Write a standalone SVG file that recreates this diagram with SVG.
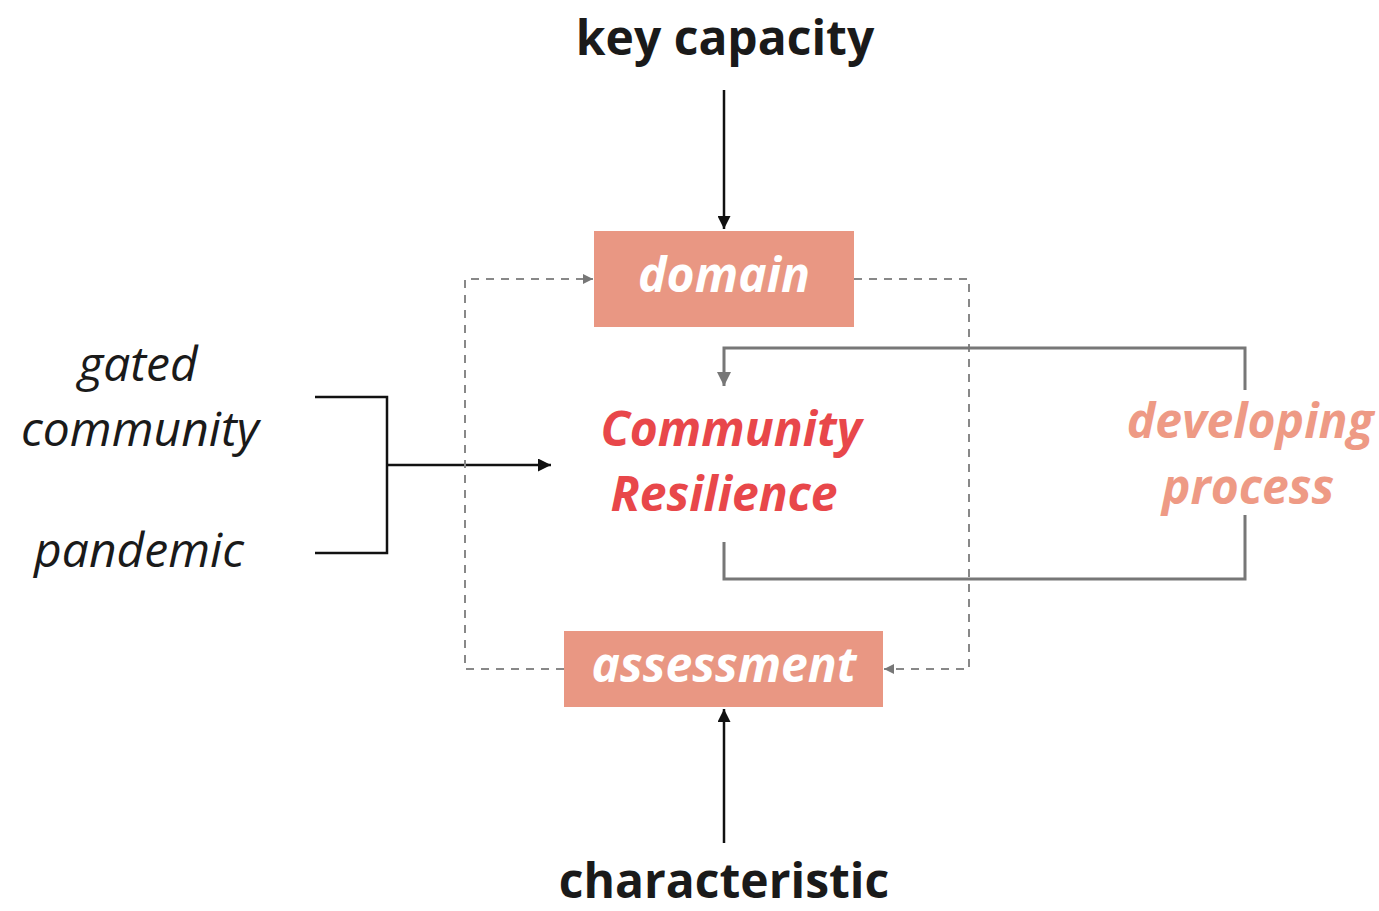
<svg xmlns="http://www.w3.org/2000/svg" width="1379" height="911" viewBox="0 0 1379 911">
<defs>
<marker id="ab" viewBox="0 0 10 10" refX="10" refY="5" markerWidth="13" markerHeight="13" markerUnits="userSpaceOnUse" orient="auto"><path d="M0,0 L10,5 L0,10 z" fill="#111"/></marker>
<marker id="ag" viewBox="0 0 10 10" refX="10" refY="5" markerWidth="10" markerHeight="10" markerUnits="userSpaceOnUse" orient="auto"><path d="M0,0 L10,5 L0,10 z" fill="#777"/></marker>
<marker id="ag2" viewBox="0 0 10 10" refX="10" refY="5" markerWidth="14" markerHeight="14" markerUnits="userSpaceOnUse" orient="auto"><path d="M0,0 L10,5 L0,10 z" fill="#777"/></marker>
</defs>
<style>
text{font-family:"Open Sans","Noto Sans",sans-serif;text-anchor:middle;font-size:48px}
.t{font-weight:bold;fill:#1a1a1a}
.l{font-style:italic;fill:#1a1a1a}
.box{fill:#E99783}
.w{font-weight:bold;font-style:italic;fill:#fff}
.r{font-weight:bold;font-style:italic;fill:#E8474A}
.p{font-weight:bold;font-style:italic;fill:#EE9A85}
.blk{fill:none;stroke:#111;stroke-width:2.5}
.dash{fill:none;stroke:#888;stroke-width:2;stroke-dasharray:8 7}
.gry{fill:none;stroke:#777;stroke-width:3}
</style>
<g id="connectors">
<line class="blk" x1="724" y1="90" x2="724" y2="229" marker-end="url(#ab)"/>
<line class="blk" x1="724" y1="843" x2="724" y2="709" marker-end="url(#ab)"/>
<path class="blk" d="M315,397 H387 V553 H315"/>
<line class="blk" x1="387" y1="465" x2="551" y2="465" marker-end="url(#ab)"/>
<path class="dash" d="M564,669 H465 V279 H593" marker-end="url(#ag)"/>
<path class="dash" d="M854,279 H969 V669 H884" marker-end="url(#ag)"/>
<path class="gry" d="M1245,390 V348 H724 V386" marker-end="url(#ag2)"/>
<path class="gry" d="M724,542 V579 H1245 V515"/>
</g>
<g id="key-capacity"><text class="t" x="725" y="55">key capacity</text></g>
<g id="characteristic"><text class="t" x="724" y="898">characteristic</text></g>
<g id="domain"><rect class="box" x="594" y="231" width="260" height="96"/><text class="w" x="724" y="292">domain</text></g>
<g id="assessment"><rect class="box" x="564" y="631" width="319" height="76"/><text class="w" x="724" y="682">assessment</text></g>
<g id="gated-community"><text class="l" x="138" y="381">gated</text><text class="l" x="140" y="446">community</text></g>
<g id="pandemic"><text class="l" x="139" y="567">pandemic</text></g>
<g id="community-resilience"><text class="r" x="731" y="446">Community</text><text class="r" x="724" y="511">Resilience</text></g>
<g id="developing-process"><text class="p" x="1250" y="438">developing</text><text class="p" x="1248" y="504">process</text></g>
</svg>
